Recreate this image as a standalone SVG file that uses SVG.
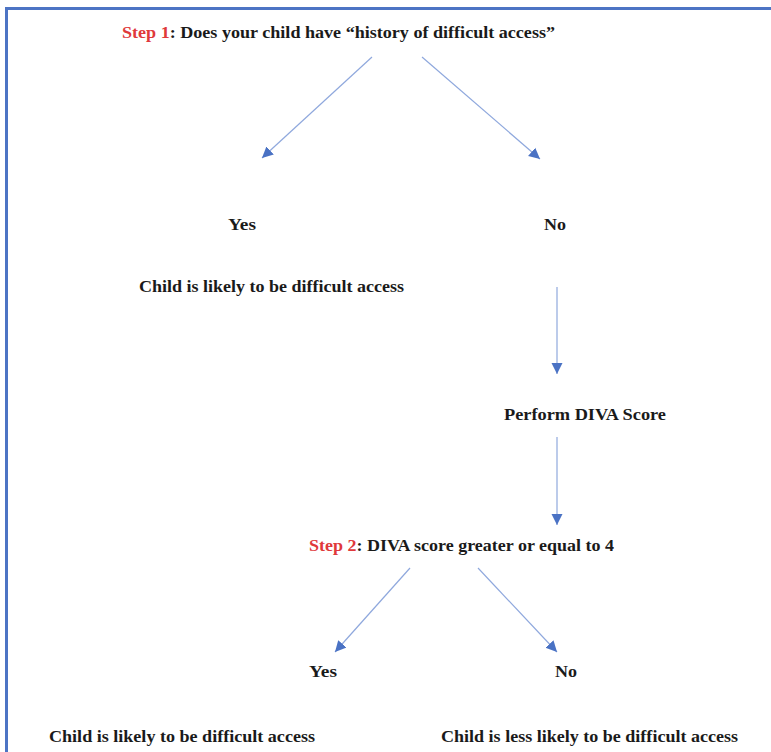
<svg xmlns="http://www.w3.org/2000/svg" width="771" height="752" viewBox="0 0 771 752">
<defs>
<style>
.t{font-family:"Liberation Serif","Times New Roman",serif;font-weight:bold;font-size:16px;fill:#1a1a1a}
.r{fill:#e0393b}
.c{stroke:#8fa8dd;stroke-width:1.2;fill:none;marker-end:url(#ah)}
</style>
<marker id="ah" markerUnits="userSpaceOnUse" markerWidth="12" markerHeight="12" viewBox="0 0 12 12" refX="11" refY="6" orient="auto">
<path d="M0,0.5 L11,6 L0,11.5 Z" fill="#4a72c4"/>
</marker>
</defs>
<rect x="6.5" y="8.5" width="800" height="800" fill="#ffffff" stroke="#4d74c4" stroke-width="3"/>
<g id="connectors">
<line class="c" x1="372" y1="57" x2="262" y2="158"/>
<line class="c" x1="422" y1="57" x2="540" y2="159"/>
<line class="c" x1="557" y1="287" x2="557" y2="374"/>
<line class="c" x1="557" y1="437" x2="557" y2="525"/>
<line class="c" x1="410" y1="568" x2="335" y2="652"/>
<line class="c" x1="478" y1="568" x2="557" y2="652"/>
</g>
<g id="step1"><text class="t" x="122" y="38" textLength="433" lengthAdjust="spacingAndGlyphs"><tspan class="r">Step 1</tspan>: Does your child have “history of difficult access”</text></g>
<g id="yes1"><text class="t" x="228" y="230" textLength="28" lengthAdjust="spacingAndGlyphs">Yes</text></g>
<g id="no1"><text class="t" x="544" y="230" textLength="22" lengthAdjust="spacingAndGlyphs">No</text></g>
<g id="likely1"><text class="t" x="139" y="292" textLength="265" lengthAdjust="spacingAndGlyphs">Child is likely to be difficult access</text></g>
<g id="diva"><text class="t" x="504" y="420" textLength="162" lengthAdjust="spacingAndGlyphs">Perform DIVA Score</text></g>
<g id="step2"><text class="t" x="309" y="551" textLength="305" lengthAdjust="spacingAndGlyphs"><tspan class="r">Step 2</tspan>: DIVA score greater or equal to 4</text></g>
<g id="yes2"><text class="t" x="309" y="677" textLength="28" lengthAdjust="spacingAndGlyphs">Yes</text></g>
<g id="no2"><text class="t" x="555" y="677" textLength="22" lengthAdjust="spacingAndGlyphs">No</text></g>
<g id="likely2"><text class="t" x="49" y="742" textLength="266" lengthAdjust="spacingAndGlyphs">Child is likely to be difficult access</text></g>
<g id="less2"><text class="t" x="441" y="742" textLength="297" lengthAdjust="spacingAndGlyphs">Child is less likely to be difficult access</text></g>
</svg>
